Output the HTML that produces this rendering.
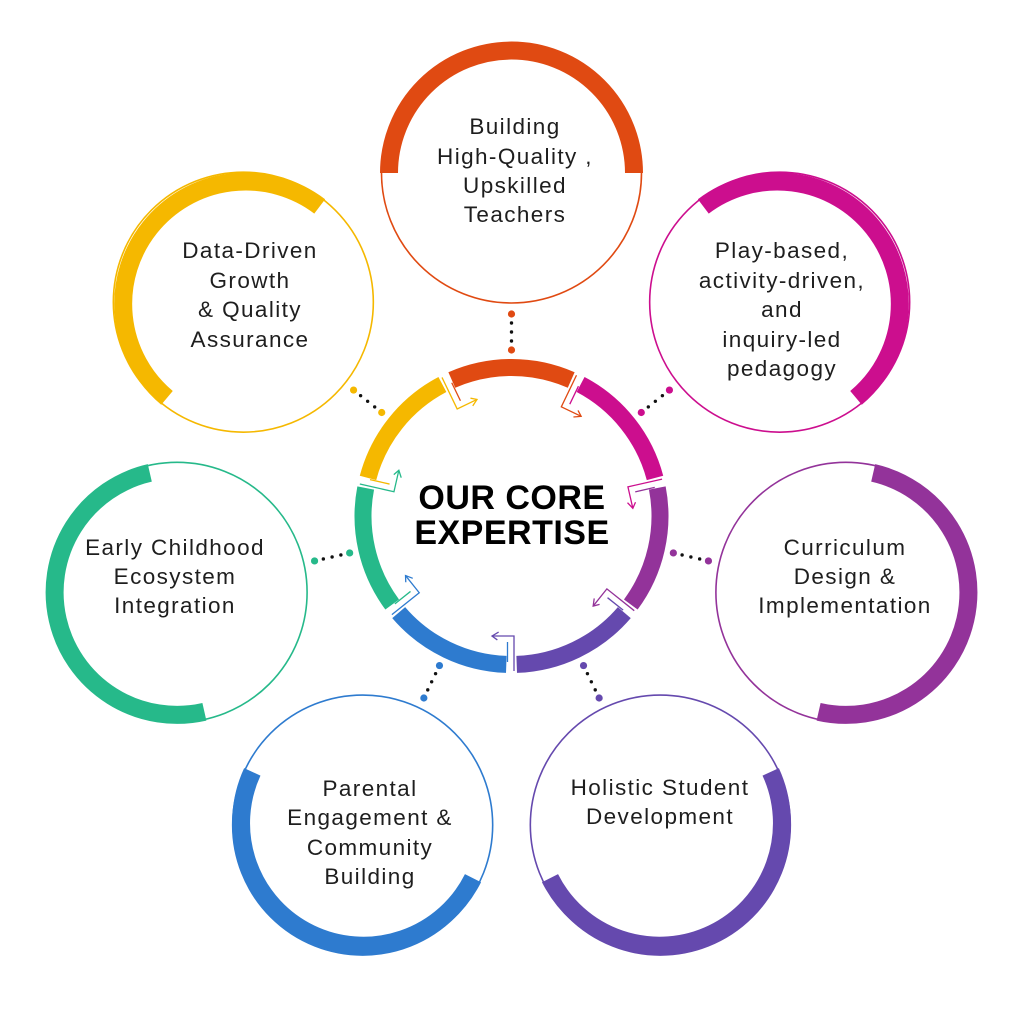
<!DOCTYPE html>
<html><head><meta charset="utf-8"><style>
html,body{margin:0;padding:0;background:#fff;}
svg{display:block}
.t{font-family:"Liberation Sans",sans-serif;font-size:22.5px;letter-spacing:1.4px;fill:#1e1e1e;text-anchor:middle;}
.h{font-family:"Liberation Sans",sans-serif;font-size:34px;font-weight:bold;fill:#000;text-anchor:middle;letter-spacing:0.5px;}
</style></head><body>
<svg id="s" width="1024" height="1024" viewBox="0 0 1024 1024" xmlns="http://www.w3.org/2000/svg">
<g id="g"></g>
<text class="t" x="515" y="134">Building</text>
<text class="t" x="515" y="164">High-Quality ,</text>
<text class="t" x="515" y="193">Upskilled</text>
<text class="t" x="515" y="222">Teachers</text>

<text class="t" x="782" y="258">Play-based,</text>
<text class="t" x="782" y="288">activity-driven,</text>
<text class="t" x="782" y="317">and</text>
<text class="t" x="782" y="347">inquiry-led</text>
<text class="t" x="782" y="376">pedagogy</text>

<text class="t" x="845" y="555">Curriculum</text>
<text class="t" x="845" y="584">Design &amp;</text>
<text class="t" x="845" y="613">Implementation</text>

<text class="t" x="660" y="795">Holistic Student</text>
<text class="t" x="660" y="824">Development</text>

<text class="t" x="370" y="796">Parental</text>
<text class="t" x="370" y="825">Engagement &amp;</text>
<text class="t" x="370" y="855">Community</text>
<text class="t" x="370" y="884">Building</text>

<text class="t" x="175" y="555">Early Childhood</text>
<text class="t" x="175" y="584">Ecosystem</text>
<text class="t" x="175" y="613">Integration</text>

<text class="t" x="250" y="258">Data-Driven</text>
<text class="t" x="250" y="288">Growth</text>
<text class="t" x="250" y="317">&amp; Quality</text>
<text class="t" x="250" y="347">Assurance</text>

<text class="h" x="512" y="509">OUR CORE</text>
<text class="h" x="512" y="544">EXPERTISE</text>
</svg>
<script>
var cols=["#E04A12","#CC0E8E","#93339A","#6549AE","#2E7BCF","#26B98A","#F5B800"];
var CX=511.5,CY=516,D=343,N=7,step=2*Math.PI/N;
var out="";
function P(cx,cy,r,a){return [cx+r*Math.sin(a),cy-r*Math.cos(a)];}
function arc(cx,cy,r,a0,a1){var p=P(cx,cy,r,a0),q=P(cx,cy,r,a1);var large=(a1-a0)>Math.PI?1:0;
 return "M"+p[0].toFixed(1)+","+p[1].toFixed(1)+" A"+r+","+r+" 0 "+large+" 1 "+q[0].toFixed(1)+","+q[1].toFixed(1);}
for(var k=0;k<N;k++){
 var a=k*step,c=cols[k];
 var o=P(CX,CY,D,a),ox=o[0],oy=o[1];
 out+='<circle cx="'+ox+'" cy="'+oy+'" r="130" fill="none" stroke="'+c+'" stroke-width="1.6"/>';
 out+='<path d="'+arc(ox,oy,122.5,a-Math.PI/2,a+Math.PI/2)+'" fill="none" stroke="'+c+'" stroke-width="18"/>';
 var g=0.035;
 out+='<path d="'+arc(CX,CY,148.5,a-step/2+g,a+step/2-g)+'" fill="none" stroke="'+c+'" stroke-width="17"/>';
 var ux=(CX-ox)/D,uy=(CY-oy)/D;
 out+='<circle cx="'+(ox+ux*141)+'" cy="'+(oy+uy*141)+'" r="3.6" fill="'+c+'"/>';
 out+='<circle cx="'+(ox+ux*177)+'" cy="'+(oy+uy*177)+'" r="3.6" fill="'+c+'"/>';
 for(var j=1;j<=3;j++){var d=141+j*9;out+='<circle cx="'+(ox+ux*d)+'" cy="'+(oy+uy*d)+'" r="1.7" fill="#111"/>';}
 var b=a+step/2, nc=cols[(k+1)%N];
 var tx=Math.cos(b),ty=Math.sin(b);
 var s=P(CX,CY,155,b),e=P(CX,CY,120,b);
 var off=-2.5;
 s[0]+=tx*off;s[1]+=ty*off;e[0]+=tx*off;e[1]+=ty*off;
 var f=[e[0]+tx*22,e[1]+ty*22];
 out+='<polyline points="'+s.join(",")+' '+e.join(",")+' '+f.join(",")+'" fill="none" stroke="'+c+'" stroke-width="1.3"/>';
 var rx=(CX-f[0]),ry=(CY-f[1]);var rl=Math.hypot(rx,ry);rx/=rl;ry/=rl;
 var h1=[f[0]-tx*6+rx*4,f[1]-ty*6+ry*4],h2=[f[0]-tx*6-rx*4,f[1]-ty*6-ry*4];
 out+='<polyline points="'+h1.join(",")+' '+f.join(",")+' '+h2.join(",")+'" fill="none" stroke="'+c+'" stroke-width="1.3"/>';
 var s2=P(CX,CY,146,b),e2=P(CX,CY,126,b);
 s2[0]+=tx*4;s2[1]+=ty*4;e2[0]+=tx*4;e2[1]+=ty*4;
 out+='<line x1="'+s2[0]+'" y1="'+s2[1]+'" x2="'+e2[0]+'" y2="'+e2[1]+'" stroke="'+nc+'" stroke-width="1.3"/>';
}
document.getElementById("g").innerHTML=out;
</script>
</body></html>
